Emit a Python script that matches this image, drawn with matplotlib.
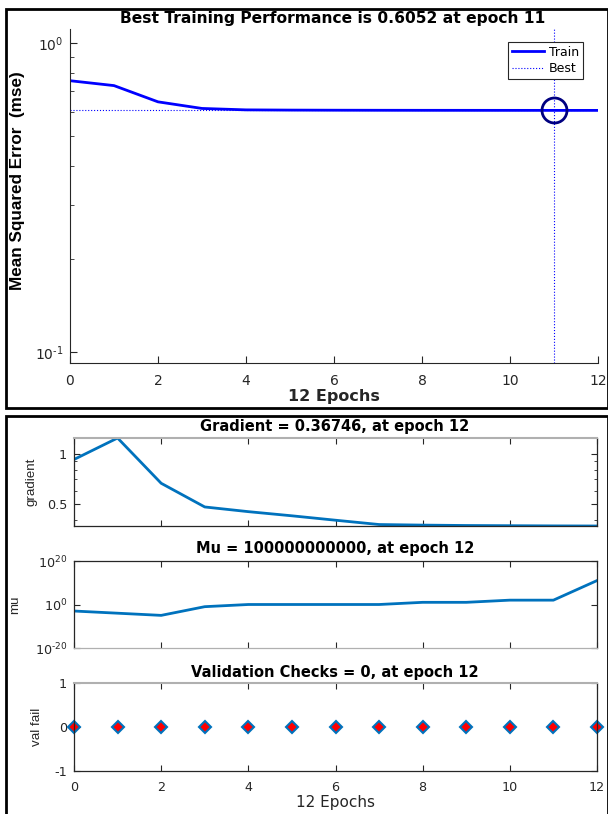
import numpy as np
import matplotlib
matplotlib.use("Agg")
import matplotlib.pyplot as plt
from matplotlib.patches import Rectangle
from matplotlib.ticker import FixedLocator, NullFormatter, FixedFormatter, NullLocator

plt.rcParams['font.family'] = ['DejaVu Sans']
plt.rcParams['mathtext.fontset'] = 'dejavusans'
plt.rcParams['axes.unicode_minus'] = False

# training record
epochs = [0, 1, 2, 3, 4, 5, 6, 7, 8, 9, 10, 11, 12]
train_perf = [0.755, 0.728, 0.645, 0.614, 0.6075, 0.6065, 0.606, 0.6057,
              0.6055, 0.6054, 0.6053, 0.6052, 0.6052]
best_epoch = 11
best_perf = 0.6052
gradient = [0.921, 1.239, 0.663, 0.478, 0.448, 0.423, 0.398, 0.375,
            0.372, 0.370, 0.369, 0.368, 0.36746]
mu = [1e-3, 1e-4, 1e-5, 1e-1, 1, 1, 1, 1, 10, 10, 100, 100, 1e11]
val_fail = [0, 0, 0, 0, 0, 0, 0, 0, 0, 0, 0, 0, 0]

W, H = 608, 814
TXT = '#262626'
MBLUE = '#0072BD'
VFONT = ['Liberation Sans', 'DejaVu Sans']   # rotated labels


def box(l, t, r, b):
    return [l / W, 1 - b / H, (r - l) / W, (b - t) / H]


def ftext(x, y, s, va='center', **kw):
    fig.text(x / W, 1 - y / H, s, ha='center', va=va, **kw)


fig = plt.figure(figsize=(W / 100, H / 100), dpi=100)

# panel frames
fig.add_artist(Rectangle((6 / W, 1 - 408 / H), 0.99, 399 / H, transform=fig.transFigure,
                         fill=False, edgecolor='black', linewidth=2))
fig.add_artist(Rectangle((6 / W, -0.05), 0.99, 1 - 416 / H + 0.05, transform=fig.transFigure,
                         fill=False, edgecolor='black', linewidth=2))

# ---- performance ----
ax = fig.add_axes(box(70, 29, 598, 363))
ax.semilogy(epochs, train_perf, color='blue', linewidth=2, label='Train')
ax.axhline(best_perf, color='blue', linestyle=':', linewidth=0.8, label='Best')
ax.axvline(best_epoch, color='blue', linestyle=':', linewidth=0.8)
ax.plot([best_epoch], [best_perf], marker='o', markersize=18, markerfacecolor='none',
        markeredgecolor='#000080', markeredgewidth=2, linestyle='none')
ax.set_xlim(0, 12)
ax.set_ylim(0.0921, 1.11)
ax.set_xticks([0, 2, 4, 6, 8, 10, 12])
ax.yaxis.set_major_locator(FixedLocator([0.1, 1]))
ax.yaxis.set_major_formatter(FixedFormatter([r'$10^{\text{-}1}$', r'$10^{0}$']))
ax.spines['top'].set_visible(False)
ax.spines['right'].set_visible(False)
for s in ('left', 'bottom'):
    ax.spines[s].set_color(TXT)
ax.tick_params(which='both', direction='in', colors=TXT, labelsize=10)
ax.tick_params(axis='x', pad=8)
ax.tick_params(axis='y', pad=5)
ax.tick_params(which='major', length=5)
ax.tick_params(which='minor', length=3)
ftext(333, 22.5, 'Best Training Performance is 0.6052 at epoch 11', va='baseline',
      fontsize=11.2, fontweight='bold', color='black')
ax.set_xlabel('12 Epochs', fontsize=11.5, fontweight='bold', color=TXT, va='center')
ax.xaxis.set_label_coords(0.5, -(396 - 363) / 334)
ax.set_ylabel('Mean Squared Error  (mse)', fontsize=12.3, fontweight='bold', va='center',
              family=VFONT)
ax.yaxis.set_label_coords(-0.099, 0.545)
leg = ax.legend(loc='upper right', bbox_to_anchor=(0.9716, 0.961), fontsize=9,
                fancybox=False, edgecolor=TXT, framealpha=1, handlelength=2.6,
                borderpad=0.3, labelspacing=0.25, handletextpad=0.4, borderaxespad=0)
leg.get_frame().set_linewidth(0.8)


def style_small(a):
    for s in a.spines.values():
        s.set_color(TXT)
        s.set_linewidth(0.9)
    a.set_xlim(0, 12)
    a.xaxis.set_major_locator(FixedLocator([0, 2, 4, 6, 8, 10, 12]))
    a.tick_params(which='both', direction='in', colors=TXT, labelsize=9.2,
                  top=True, right=True)
    a.tick_params(which='major', length=4)
    a.tick_params(which='minor', length=2.5)
    a.tick_params(axis='y', pad=5)
    a.tick_params(axis='x', pad=7)


# ---- gradient ----
ag = fig.add_axes(box(74, 438, 597, 526))
ag.semilogy(epochs, gradient, color=MBLUE, linewidth=2)
style_small(ag)
ag.set_ylim(min(gradient), max(gradient))
ag.yaxis.set_major_locator(FixedLocator([0.5, 1]))
ag.yaxis.set_major_formatter(FixedFormatter(['0.5', '1']))
ag.yaxis.set_minor_locator(FixedLocator([0.4, 0.6, 0.7, 0.8, 0.9]))
ag.yaxis.set_minor_formatter(NullFormatter())
ag.tick_params(labelbottom=False)
ag.spines['top'].set_color('#b0b0b0')
ag.spines['top'].set_linewidth(1.5)
ftext(335, 427, 'Gradient = 0.36746, at epoch 12', fontsize=10.5, fontweight='bold',
      color='black')
ag.set_ylabel('gradient', fontsize=9.6, color=TXT, va='center', family=VFONT)
ag.yaxis.set_label_coords((31 - 74) / 523, 0.5)

# ---- mu ----
am = fig.add_axes(box(74, 561, 597, 648))
am.semilogy(epochs, mu, color=MBLUE, linewidth=2)
style_small(am)
am.set_ylim(1e-20, 1e20)
am.yaxis.set_major_locator(FixedLocator([1e-20, 1e0, 1e20]))
am.yaxis.set_major_formatter(FixedFormatter([r'$10^{\text{-}20}$', r'$10^{0}$', r'$10^{20}$']))
am.yaxis.set_minor_locator(NullLocator())
am.tick_params(labelbottom=False)
am.spines['bottom'].set_color('#b0b0b0')
ftext(335, 548, 'Mu = 100000000000, at epoch 12', fontsize=10.5, fontweight='bold',
      color='black')
am.set_ylabel('mu', fontsize=9.6, color=TXT, va='center', family=VFONT)
am.yaxis.set_label_coords((15 - 74) / 523, 0.5)

# ---- validation checks ----
av = fig.add_axes(box(74, 683, 597, 771))
av.plot(epochs, val_fail, linestyle='none', marker='D', markersize=6,
        markerfacecolor='red', markeredgecolor=MBLUE, markeredgewidth=1.5, clip_on=False)
style_small(av)
av.set_ylim(-1, 1)
av.set_yticks([-1, 0, 1])
av.spines['top'].set_color('#b0b0b0')
av.spines['top'].set_linewidth(1.5)
ftext(335, 672, 'Validation Checks = 0, at epoch 12', fontsize=10.5, fontweight='bold',
      color='black')
av.set_ylabel('val fail', fontsize=9.6, color=TXT, va='center', family=VFONT)
av.yaxis.set_label_coords((37 - 74) / 523, 0.5)
av.set_xlabel('12 Epochs', fontsize=11, color=TXT, va='center')
av.xaxis.set_label_coords(0.5, -(803 - 771) / 88)

fig.savefig('out.png', dpi=100)
